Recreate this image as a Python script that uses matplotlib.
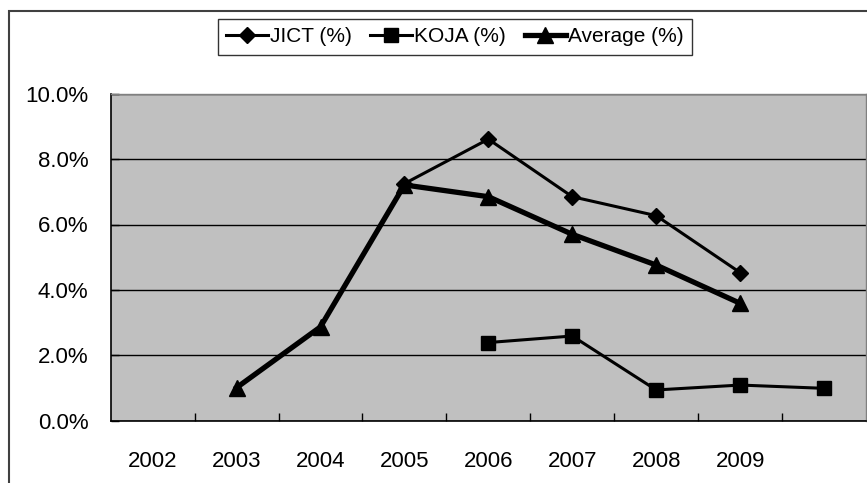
import numpy as np
import matplotlib
matplotlib.use("Agg")
import matplotlib.pyplot as plt
from matplotlib.patches import Rectangle

plt.rcParams['font.family'] = ['Liberation Sans', 'Noto Sans CJK JP', 'DejaVu Sans']

# category labels (last slot is blank in the original chart)
labels = ["2002", "2003", "2004", "2005", "2006", "2007", "2008", "2009", ""]
nan = np.nan
jict = [nan, nan, nan, 7.25, 8.61, 6.85, 6.27, 4.53, nan]
koja = [nan, nan, nan, nan, 2.39, 2.59, 0.94, 1.09, 0.99]
average = [nan, 1.01, 2.87, 7.21, 6.85, 5.70, 4.76, 3.59, nan]

x = np.arange(len(labels))

fig = plt.figure(figsize=(8.67, 4.83), dpi=100)
ax = fig.add_axes([110.7 / 867, 1 - 420.7 / 483, 755.3 / 867, 327 / 483])
ax.set_facecolor("#C0C0C0")

ax.plot(x, jict, color="black", lw=2.2, marker="D", ms=8, label="JICT (%)", zorder=3)
ax.plot(x, koja, color="black", lw=2.2, marker="s", ms=10, label="KOJA (%)", zorder=3)
ax.plot(x, average, color="black", lw=3.8, marker="^", ms=12, label="Average (%)", zorder=3)

ax.set_xlim(-0.5, len(labels) - 0.5)
ax.set_ylim(0, 10)
ax.set_yticks(np.arange(0, 10.1, 2))
ax.set_yticklabels(["%.1f%%" % v for v in np.arange(0, 10.1, 2)])
ax.yaxis.grid(True, color="black", lw=1)
ax.set_axisbelow(True)

ax.set_xticks(np.arange(0.5, len(labels) - 1, 1))
ax.set_xticklabels([])
ax.set_xticks(x, minor=True)
ax.set_xticklabels(labels, minor=True)
ax.tick_params(axis="x", which="major", direction="in", length=6, width=1)
ax.tick_params(axis="x", which="minor", length=0, pad=22, labelsize=16)
ax.tick_params(axis="y", direction="in", length=6, width=1, pad=16, labelsize=16)

for s in ["top", "right"]:
    ax.spines[s].set_color("#808080")
    ax.spines[s].set_linewidth(1)
for s in ["left", "bottom"]:
    ax.spines[s].set_color("black")
    ax.spines[s].set_linewidth(1.2)

leg = ax.legend(loc="center", bbox_to_anchor=(455 / 867, 1 - 37 / 483),
                bbox_transform=fig.transFigure, ncol=3, fontsize=15,
                frameon=True, fancybox=False, edgecolor="black",
                handlelength=2.0, handletextpad=0.1, columnspacing=0.9,
                borderpad=0.4)
leg.get_frame().set_linewidth(1)

# outer chart frame
fig.patches.append(Rectangle((9 / 867, -0.1), 1.2, 1 - 11 / 483 + 0.1,
                             transform=fig.transFigure, fill=False,
                             edgecolor="#404040", lw=1.5))

fig.savefig("out.png", dpi=100)
